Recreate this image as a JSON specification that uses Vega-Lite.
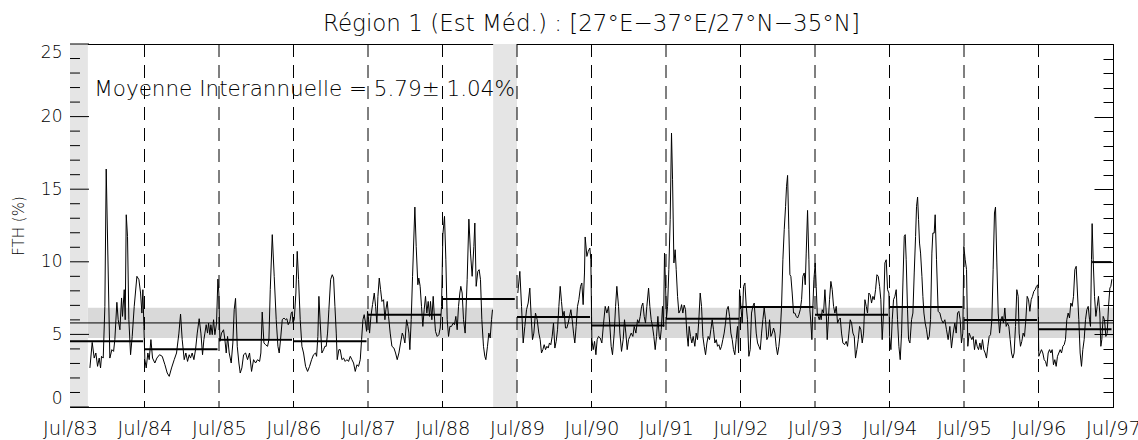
{
  "$schema": "https://vega.github.io/schema/vega-lite/v6.json",
  "width": 1043,
  "height": 363,
  "autosize": "none",
  "padding": {"left": 70, "top": 44, "right": 25, "bottom": 33},
  "background": "white",
  "config": {
    "view": {"stroke": "black", "strokeWidth": 1},
    "font": "DejaVu Sans",
    "axisY": {"zindex": 2}
  },
  "title": {
    "text": "Région 1 (Est Méd.) : [27°E−37°E/27°N−35°N]",
    "font": "DejaVu Sans",
    "fontSize": 23,
    "fontWeight": 300,
    "color": "black",
    "anchor": "middle",
    "offset": 7
  },
  "datasets": {
    "gaps": [{"a": 1983.5, "b": 1983.74}, {"a": 1989.18, "b": 1989.5}],
    "band": [{"a": 1983.74, "b": 1989.18, "lo": 4.75, "hi": 6.83}, {"a": 1989.5, "b": 1997.5, "lo": 4.75, "hi": 6.83}],
    "mean": [{"a": 1983.5, "b": 1997.5, "m": 5.79}],
    "yt": [{"y":0},{"y":1},{"y":2},{"y":3},{"y":4},{"y":5},{"y":6},{"y":7},{"y":8},{"y":9},{"y":10},{"y":11},{"y":12},{"y":13},{"y":14},{"y":15},{"y":16},{"y":17},{"y":18},{"y":19},{"y":20},{"y":21},{"y":22},{"y":23},{"y":24},{"y":25}],
    "julys": [{"t": 1984.5}, {"t": 1985.5}, {"t": 1986.5}, {"t": 1987.5}, {"t": 1988.5}, {"t": 1989.5}, {"t": 1990.5}, {"t": 1991.5}, {"t": 1992.5}, {"t": 1993.5}, {"t": 1994.5}, {"t": 1995.5}, {"t": 1996.5}],
    "annual": [
      {"s": 1983.5, "e": 1984.48, "m": 4.52},
      {"s": 1984.5, "e": 1985.48, "m": 3.97},
      {"s": 1985.5, "e": 1986.48, "m": 4.64},
      {"s": 1986.5, "e": 1987.48, "m": 4.53},
      {"s": 1987.5, "e": 1988.48, "m": 6.36},
      {"s": 1988.5, "e": 1989.47, "m": 7.43},
      {"s": 1989.5, "e": 1990.48, "m": 6.19},
      {"s": 1990.5, "e": 1991.48, "m": 5.62},
      {"s": 1991.5, "e": 1992.48, "m": 6.08},
      {"s": 1992.5, "e": 1993.48, "m": 6.88},
      {"s": 1993.5, "e": 1994.48, "m": 6.36},
      {"s": 1994.5, "e": 1995.48, "m": 6.88},
      {"s": 1995.5, "e": 1996.48, "m": 6.0},
      {"s": 1996.5, "e": 1997.48, "m": 5.36},
      {"s": 1997.22, "e": 1997.48, "m": 9.98}
    ],
    "note": [{"label": "Moyenne Interannuelle = 5.79± 1.04%"}],
    "series": [
      {"t":1983.767,"v":2.69,"s":1},{"t":1983.798,"v":4.45,"s":1},{"t":1983.825,"v":3.37,"s":1},{"t":1983.847,"v":3.72,"s":1},{"t":1983.870,"v":2.80,"s":1},{"t":1983.892,"v":3.37,"s":1},{"t":1983.910,"v":2.69,"s":1},{"t":1983.923,"v":3.49,"s":1},{"t":1983.946,"v":3.37,"s":1},{"t":1983.968,"v":6.93,"s":1},{"t":1983.986,"v":16.39,"s":1},{"t":1984.035,"v":3.37,"s":1},{"t":1984.062,"v":3.95,"s":1},{"t":1984.085,"v":3.83,"s":1},{"t":1984.102,"v":4.64,"s":1},{"t":1984.129,"v":7.21,"s":1},{"t":1984.147,"v":6.01,"s":1},{"t":1984.170,"v":5.32,"s":1},{"t":1984.192,"v":7.51,"s":1},{"t":1984.205,"v":6.24,"s":1},{"t":1984.228,"v":8.08,"s":1},{"t":1984.241,"v":6.01,"s":1},{"t":1984.255,"v":13.24,"s":1},{"t":1984.272,"v":11.75,"s":1},{"t":1984.290,"v":6.01,"s":1},{"t":1984.313,"v":3.60,"s":1},{"t":1984.335,"v":4.86,"s":1},{"t":1984.362,"v":6.93,"s":1},{"t":1984.398,"v":9.0,"s":1},{"t":1984.425,"v":8.77,"s":1},{"t":1984.447,"v":7.85,"s":1},{"t":1984.465,"v":6.47,"s":1},{"t":1984.478,"v":8.08,"s":1},{"t":1984.492,"v":5.55,"s":1},{"t":1984.505,"v":3.26,"s":1},{"t":1984.523,"v":2.69,"s":1},{"t":1984.545,"v":3.72,"s":1},{"t":1984.563,"v":3.26,"s":1},{"t":1984.586,"v":4.64,"s":1},{"t":1984.608,"v":3.37,"s":1},{"t":1984.639,"v":3.03,"s":1},{"t":1984.666,"v":3.37,"s":1},{"t":1984.702,"v":3.60,"s":1},{"t":1984.738,"v":3.49,"s":1},{"t":1984.774,"v":2.91,"s":1},{"t":1984.805,"v":2.34,"s":1},{"t":1984.832,"v":2.11,"s":1},{"t":1984.863,"v":2.69,"s":1},{"t":1984.899,"v":3.26,"s":1},{"t":1984.930,"v":3.72,"s":1},{"t":1984.962,"v":5.09,"s":1},{"t":1984.984,"v":6.40,"s":1},{"t":1985.006,"v":4.64,"s":1},{"t":1985.033,"v":3.26,"s":1},{"t":1985.055,"v":3.72,"s":1},{"t":1985.078,"v":3.14,"s":1},{"t":1985.100,"v":3.60,"s":1},{"t":1985.118,"v":3.37,"s":1},{"t":1985.140,"v":3.72,"s":1},{"t":1985.163,"v":3.26,"s":1},{"t":1985.185,"v":3.95,"s":1},{"t":1985.208,"v":5.09,"s":1},{"t":1985.234,"v":6.08,"s":1},{"t":1985.257,"v":5.09,"s":1},{"t":1985.279,"v":3.60,"s":1},{"t":1985.297,"v":4.64,"s":1},{"t":1985.311,"v":5.09,"s":1},{"t":1985.328,"v":5.67,"s":1},{"t":1985.346,"v":5.09,"s":1},{"t":1985.360,"v":5.78,"s":1},{"t":1985.378,"v":4.98,"s":1},{"t":1985.391,"v":5.67,"s":1},{"t":1985.409,"v":4.98,"s":1},{"t":1985.427,"v":6.01,"s":1},{"t":1985.445,"v":4.98,"s":1},{"t":1985.467,"v":5.78,"s":1},{"t":1985.485,"v":8.81,"s":1},{"t":1985.498,"v":7.85,"s":1},{"t":1985.512,"v":4.52,"s":1},{"t":1985.534,"v":5.09,"s":1},{"t":1985.561,"v":5.32,"s":1},{"t":1985.579,"v":4.64,"s":1},{"t":1985.597,"v":3.72,"s":1},{"t":1985.615,"v":4.86,"s":1},{"t":1985.637,"v":3.72,"s":1},{"t":1985.664,"v":3.03,"s":1},{"t":1985.686,"v":4.41,"s":1},{"t":1985.704,"v":6.70,"s":1},{"t":1985.722,"v":7.48,"s":1},{"t":1985.745,"v":4.18,"s":1},{"t":1985.767,"v":3.03,"s":1},
      {"t":1985.785,"v":2.34,"s":1},{"t":1985.807,"v":2.69,"s":1},{"t":1985.830,"v":3.60,"s":1},{"t":1985.857,"v":3.72,"s":1},{"t":1985.883,"v":3.26,"s":1},{"t":1985.910,"v":3.72,"s":1},{"t":1985.937,"v":2.45,"s":1},{"t":1985.964,"v":3.26,"s":1},{"t":1985.991,"v":3.03,"s":1},{"t":1986.018,"v":3.26,"s":1},{"t":1986.045,"v":3.14,"s":1},{"t":1986.062,"v":3.72,"s":1},{"t":1986.080,"v":6.54,"s":1},{"t":1986.103,"v":4.41,"s":1},{"t":1986.125,"v":4.29,"s":1},{"t":1986.152,"v":4.18,"s":1},{"t":1986.170,"v":4.64,"s":1},{"t":1986.188,"v":8.08,"s":1},{"t":1986.215,"v":11.87,"s":1},{"t":1986.241,"v":9.0,"s":1},{"t":1986.268,"v":6.01,"s":1},{"t":1986.291,"v":4.18,"s":1},{"t":1986.308,"v":3.72,"s":1},{"t":1986.326,"v":4.64,"s":1},{"t":1986.349,"v":6.01,"s":1},{"t":1986.371,"v":6.13,"s":1},{"t":1986.394,"v":6.01,"s":1},{"t":1986.411,"v":6.08,"s":1},{"t":1986.429,"v":5.67,"s":1},{"t":1986.452,"v":5.90,"s":1},{"t":1986.470,"v":6.47,"s":1},{"t":1986.483,"v":6.56,"s":1},{"t":1986.492,"v":5.83,"s":1},{"t":1986.510,"v":6.01,"s":1},{"t":1986.532,"v":7.85,"s":1},{"t":1986.550,"v":10.72,"s":1},{"t":1986.568,"v":8.77,"s":1},{"t":1986.590,"v":6.01,"s":1},{"t":1986.613,"v":4.18,"s":1},{"t":1986.635,"v":3.72,"s":1},{"t":1986.662,"v":2.80,"s":1},{"t":1986.689,"v":2.45,"s":1},{"t":1986.716,"v":2.80,"s":1},{"t":1986.743,"v":3.26,"s":1},{"t":1986.769,"v":3.60,"s":1},{"t":1986.796,"v":3.72,"s":1},{"t":1986.810,"v":3.49,"s":1},{"t":1986.827,"v":4.86,"s":1},{"t":1986.841,"v":7.62,"s":1},{"t":1986.859,"v":5.78,"s":1},{"t":1986.881,"v":3.72,"s":1},{"t":1986.904,"v":3.95,"s":1},{"t":1986.921,"v":4.18,"s":1},{"t":1986.939,"v":4.18,"s":1},{"t":1986.957,"v":5.09,"s":1},{"t":1986.975,"v":6.70,"s":1},{"t":1986.998,"v":8.77,"s":1},{"t":1987.020,"v":9.11,"s":1},{"t":1987.038,"v":8.88,"s":1},{"t":1987.056,"v":6.93,"s":1},{"t":1987.074,"v":5.09,"s":1},{"t":1987.087,"v":3.26,"s":1},{"t":1987.109,"v":3.95,"s":1},{"t":1987.127,"v":3.95,"s":1},{"t":1987.150,"v":3.26,"s":1},{"t":1987.172,"v":3.37,"s":1},{"t":1987.194,"v":3.14,"s":1},{"t":1987.217,"v":3.26,"s":1},{"t":1987.239,"v":3.14,"s":1},{"t":1987.262,"v":3.49,"s":1},{"t":1987.284,"v":3.26,"s":1},{"t":1987.306,"v":3.03,"s":1},{"t":1987.329,"v":2.45,"s":1},{"t":1987.351,"v":2.91,"s":1},{"t":1987.373,"v":2.80,"s":1},{"t":1987.396,"v":3.26,"s":1},{"t":1987.414,"v":4.64,"s":1},{"t":1987.432,"v":6.01,"s":1},{"t":1987.449,"v":6.36,"s":1},{"t":1987.467,"v":5.78,"s":1},{"t":1987.481,"v":5.21,"s":1},{"t":1987.494,"v":6.59,"s":1},{"t":1987.508,"v":6.01,"s":1},{"t":1987.521,"v":5.09,"s":1},{"t":1987.539,"v":6.24,"s":1},{"t":1987.561,"v":7.05,"s":1},{"t":1987.584,"v":7.85,"s":1},{"t":1987.602,"v":6.93,"s":1},{"t":1987.619,"v":5.78,"s":1},{"t":1987.633,"v":7.62,"s":1},{"t":1987.651,"v":8.88,"s":1},{"t":1987.669,"v":8.08,"s":1},{"t":1987.687,"v":7.27,"s":1},{"t":1987.709,"v":7.39,"s":1},{"t":1987.727,"v":6.01,"s":1},{"t":1987.740,"v":6.70,"s":1},{"t":1987.758,"v":7.27,"s":1},{"t":1987.776,"v":6.24,"s":1},{"t":1987.798,"v":5.09,"s":1},{"t":1987.821,"v":4.18,"s":1},{"t":1987.848,"v":4.06,"s":1},{"t":1987.870,"v":3.72,"s":1},{"t":1987.892,"v":3.26,"s":1},{"t":1987.915,"v":3.72,"s":1},{"t":1987.937,"v":4.41,"s":1},{"t":1987.960,"v":5.09,"s":1},{"t":1987.977,"v":4.86,"s":1},{"t":1987.995,"v":4.41,"s":1},{"t":1988.018,"v":6.01,"s":1},{"t":1988.036,"v":5.55,"s":1},{"t":1988.049,"v":5.09,"s":1},{"t":1988.062,"v":3.95,"s":1},{"t":1988.080,"v":6.01,"s":1},{"t":1988.098,"v":9.0,"s":1},
      {"t":1988.129,"v":13.77,"s":1},{"t":1988.147,"v":11.06,"s":1},{"t":1988.169,"v":8.42,"s":1},{"t":1988.182,"v":8.88,"s":1},{"t":1988.200,"v":8.31,"s":1},{"t":1988.218,"v":6.93,"s":1},{"t":1988.236,"v":5.55,"s":1},{"t":1988.254,"v":6.70,"s":1},{"t":1988.272,"v":7.62,"s":1},{"t":1988.290,"v":6.47,"s":1},{"t":1988.308,"v":7.27,"s":1},{"t":1988.326,"v":6.24,"s":1},{"t":1988.339,"v":7.27,"s":1},{"t":1988.357,"v":6.01,"s":1},{"t":1988.375,"v":7.62,"s":1},{"t":1988.388,"v":6.47,"s":1},{"t":1988.406,"v":5.21,"s":1},{"t":1988.429,"v":4.86,"s":1},{"t":1988.451,"v":4.98,"s":1},{"t":1988.469,"v":5.44,"s":1},{"t":1988.487,"v":6.93,"s":1},{"t":1988.505,"v":11.87,"s":1},{"t":1988.527,"v":13.13,"s":1},{"t":1988.545,"v":10.14,"s":1},{"t":1988.563,"v":6.01,"s":1},{"t":1988.581,"v":4.86,"s":1},{"t":1988.599,"v":5.55,"s":1},{"t":1988.621,"v":5.55,"s":1},{"t":1988.643,"v":5.78,"s":1},{"t":1988.661,"v":5.67,"s":1},{"t":1988.679,"v":6.24,"s":1},{"t":1988.697,"v":5.32,"s":1},{"t":1988.715,"v":6.93,"s":1},{"t":1988.733,"v":7.85,"s":1},{"t":1988.746,"v":8.31,"s":1},{"t":1988.764,"v":7.85,"s":1},{"t":1988.782,"v":6.01,"s":1},{"t":1988.804,"v":5.09,"s":1},{"t":1988.831,"v":8.77,"s":1},{"t":1988.854,"v":12.94,"s":1},{"t":1988.876,"v":10.6,"s":1},{"t":1988.898,"v":9.0,"s":1},{"t":1988.921,"v":11.06,"s":1},{"t":1988.934,"v":12.67,"s":1},{"t":1988.952,"v":8.31,"s":1},{"t":1988.974,"v":9.34,"s":1},{"t":1988.992,"v":9.46,"s":1},{"t":1989.010,"v":8.77,"s":1},{"t":1989.028,"v":6.01,"s":1},{"t":1989.050,"v":4.18,"s":1},{"t":1989.068,"v":3.49,"s":1},{"t":1989.082,"v":3.26,"s":1},{"t":1989.104,"v":4.18,"s":1},{"t":1989.122,"v":5.09,"s":1},{"t":1989.140,"v":4.75,"s":1},{"t":1989.158,"v":6.01,"s":1},{"t":1989.171,"v":6.70,"s":1},
      {"t":1989.511,"v":7.85,"s":2},{"t":1989.538,"v":9.34,"s":2},{"t":1989.561,"v":6.93,"s":2},{"t":1989.583,"v":4.41,"s":2},{"t":1989.605,"v":5.55,"s":2},{"t":1989.628,"v":6.70,"s":2},{"t":1989.650,"v":7.16,"s":2},{"t":1989.672,"v":8.19,"s":2},{"t":1989.690,"v":6.24,"s":2},{"t":1989.708,"v":4.64,"s":2},{"t":1989.726,"v":5.09,"s":2},{"t":1989.748,"v":6.47,"s":2},{"t":1989.771,"v":6.01,"s":2},{"t":1989.793,"v":5.09,"s":2},{"t":1989.811,"v":4.64,"s":2},{"t":1989.829,"v":3.72,"s":2},{"t":1989.847,"v":3.95,"s":2},{"t":1989.865,"v":4.29,"s":2},{"t":1989.883,"v":3.95,"s":2},{"t":1989.901,"v":4.18,"s":2},{"t":1989.919,"v":4.06,"s":2},{"t":1989.936,"v":4.41,"s":2},{"t":1989.954,"v":4.29,"s":2},{"t":1989.972,"v":4.86,"s":2},{"t":1989.990,"v":5.78,"s":2},{"t":1990.008,"v":4.06,"s":2},{"t":1990.026,"v":4.52,"s":2},{"t":1990.044,"v":5.32,"s":2},{"t":1990.062,"v":6.93,"s":2},{"t":1990.080,"v":8.31,"s":2},{"t":1990.097,"v":7.27,"s":2},{"t":1990.115,"v":6.24,"s":2},{"t":1990.133,"v":6.59,"s":2},{"t":1990.151,"v":5.44,"s":2},{"t":1990.169,"v":5.44,"s":2},{"t":1990.187,"v":5.78,"s":2},{"t":1990.205,"v":6.24,"s":2},{"t":1990.223,"v":6.70,"s":2},{"t":1990.241,"v":6.01,"s":2},{"t":1990.259,"v":5.09,"s":2},{"t":1990.276,"v":4.41,"s":2},{"t":1990.294,"v":5.55,"s":2},{"t":1990.312,"v":6.93,"s":2},{"t":1990.330,"v":7.39,"s":2},{"t":1990.353,"v":8.31,"s":2},{"t":1990.370,"v":8.54,"s":2},{"t":1990.388,"v":7.05,"s":2},{"t":1990.406,"v":9.23,"s":2},
      {"t":1990.415,"v":11.71,"s":2},{"t":1990.438,"v":10.37,"s":2},{"t":1990.456,"v":10.72,"s":2},{"t":1990.478,"v":10.95,"s":2},{"t":1990.491,"v":10.14,"s":2},{"t":1990.505,"v":4.64,"s":2},{"t":1990.523,"v":3.95,"s":2},{"t":1990.541,"v":4.52,"s":2},{"t":1990.559,"v":3.60,"s":2},{"t":1990.576,"v":4.64,"s":2},{"t":1990.594,"v":4.86,"s":2},{"t":1990.617,"v":4.75,"s":2},{"t":1990.639,"v":4.41,"s":2},{"t":1990.662,"v":5.78,"s":2},{"t":1990.684,"v":6.93,"s":2},{"t":1990.706,"v":6.47,"s":2},{"t":1990.729,"v":6.93,"s":2},{"t":1990.747,"v":5.55,"s":2},{"t":1990.764,"v":4.18,"s":2},{"t":1990.782,"v":3.60,"s":2},{"t":1990.805,"v":5.09,"s":2},{"t":1990.823,"v":6.93,"s":2},{"t":1990.840,"v":8.31,"s":2},{"t":1990.863,"v":6.93,"s":2},{"t":1990.881,"v":5.09,"s":2},{"t":1990.903,"v":3.83,"s":2},{"t":1990.925,"v":4.64,"s":2},{"t":1990.943,"v":6.01,"s":2},{"t":1990.961,"v":5.09,"s":2},{"t":1990.979,"v":3.95,"s":2},{"t":1990.997,"v":4.64,"s":2},{"t":1991.015,"v":4.86,"s":2},{"t":1991.033,"v":5.09,"s":2},{"t":1991.055,"v":4.86,"s":2},{"t":1991.073,"v":5.55,"s":2},{"t":1991.096,"v":5.09,"s":2},{"t":1991.118,"v":6.01,"s":2},{"t":1991.136,"v":5.78,"s":2},{"t":1991.154,"v":6.24,"s":2},{"t":1991.172,"v":6.93,"s":2},{"t":1991.189,"v":7.16,"s":2},{"t":1991.207,"v":6.24,"s":2},{"t":1991.225,"v":5.78,"s":2},{"t":1991.243,"v":6.93,"s":2},{"t":1991.266,"v":8.19,"s":2},{"t":1991.283,"v":6.93,"s":2},{"t":1991.301,"v":6.01,"s":2},{"t":1991.319,"v":5.55,"s":2},{"t":1991.337,"v":4.86,"s":2},{"t":1991.355,"v":3.95,"s":2},{"t":1991.373,"v":4.86,"s":2},{"t":1991.391,"v":6.24,"s":2},{"t":1991.409,"v":4.86,"s":2},{"t":1991.422,"v":4.64,"s":2},{"t":1991.436,"v":5.32,"s":2},{"t":1991.453,"v":6.93,"s":2},{"t":1991.467,"v":5.55,"s":2},{"t":1991.480,"v":10.60,"s":2},{"t":1991.494,"v":8.31,"s":2},{"t":1991.507,"v":6.13,"s":2},{"t":1991.521,"v":6.93,"s":2},{"t":1991.538,"v":9.46,"s":2},{"t":1991.556,"v":12.90,"s":2},{"t":1991.574,"v":18.87,"s":2},{"t":1991.588,"v":15.65,"s":2},{"t":1991.606,"v":9.92,"s":2},{"t":1991.623,"v":10.83,"s":2},{"t":1991.637,"v":9.46,"s":2},{"t":1991.655,"v":7.62,"s":2},{"t":1991.673,"v":6.47,"s":2},{"t":1991.695,"v":6.70,"s":2},{"t":1991.709,"v":7.05,"s":2},{"t":1991.726,"v":6.47,"s":2},{"t":1991.744,"v":7.02,"s":2},{"t":1991.762,"v":6.70,"s":2},{"t":1991.780,"v":5.09,"s":2},{"t":1991.798,"v":4.18,"s":2},{"t":1991.811,"v":5.55,"s":2},{"t":1991.829,"v":4.86,"s":2},{"t":1991.847,"v":4.41,"s":2},{"t":1991.865,"v":4.86,"s":2},{"t":1991.887,"v":4.18,"s":2},{"t":1991.905,"v":5.09,"s":2},{"t":1991.923,"v":4.64,"s":2},{"t":1991.941,"v":6.01,"s":2},{"t":1991.959,"v":7.85,"s":2},{"t":1991.977,"v":6.93,"s":2},{"t":1991.995,"v":4.86,"s":2},{"t":1992.013,"v":4.18,"s":2},{"t":1992.031,"v":3.60,"s":2},{"t":1992.049,"v":4.41,"s":2},{"t":1992.066,"v":4.86,"s":2},{"t":1992.084,"v":4.64,"s":2},{"t":1992.102,"v":5.32,"s":2},{"t":1992.120,"v":6.01,"s":2},{"t":1992.138,"v":5.32,"s":2},{"t":1992.156,"v":4.41,"s":2},{"t":1992.174,"v":4.64,"s":2},{"t":1992.192,"v":4.18,"s":2},{"t":1992.210,"v":4.29,"s":2},{"t":1992.228,"v":3.95,"s":2},{"t":1992.245,"v":4.18,"s":2},{"t":1992.263,"v":4.64,"s":2},{"t":1992.281,"v":5.09,"s":2},{"t":1992.299,"v":5.78,"s":2},{"t":1992.317,"v":6.70,"s":2},{"t":1992.335,"v":6.93,"s":2},{"t":1992.353,"v":6.24,"s":2},{"t":1992.371,"v":5.09,"s":2},{"t":1992.389,"v":4.64,"s":2},{"t":1992.406,"v":3.95,"s":2},{"t":1992.424,"v":3.60,"s":2},{"t":1992.442,"v":4.64,"s":2},{"t":1992.460,"v":5.55,"s":2},{"t":1992.474,"v":3.72,"s":2},{"t":1992.487,"v":8.08,"s":2},{"t":1992.505,"v":6.93,"s":2},{"t":1992.523,"v":5.78,"s":2},{"t":1992.541,"v":8.31,"s":2},{"t":1992.559,"v":8.54,"s":2},{"t":1992.577,"v":6.93,"s":2},{"t":1992.594,"v":6.01,"s":2},{"t":1992.612,"v":3.49,"s":2},{"t":1992.630,"v":3.95,"s":2},{"t":1992.648,"v":6.47,"s":2},{"t":1992.666,"v":6.93,"s":2},{"t":1992.684,"v":7.16,"s":2},
      {"t":1992.711,"v":5.09,"s":2},{"t":1992.729,"v":4.41,"s":2},{"t":1992.747,"v":4.18,"s":2},{"t":1992.765,"v":3.95,"s":2},{"t":1992.783,"v":5.09,"s":2},{"t":1992.800,"v":6.01,"s":2},{"t":1992.818,"v":6.82,"s":2},{"t":1992.836,"v":6.01,"s":2},{"t":1992.854,"v":4.64,"s":2},{"t":1992.872,"v":4.86,"s":2},{"t":1992.890,"v":6.01,"s":2},{"t":1992.908,"v":4.86,"s":2},{"t":1992.926,"v":5.09,"s":2},{"t":1992.944,"v":5.44,"s":2},{"t":1992.962,"v":5.09,"s":2},{"t":1992.979,"v":4.18,"s":2},{"t":1992.997,"v":3.60,"s":2},{"t":1993.015,"v":4.18,"s":2},{"t":1993.033,"v":5.09,"s":2},{"t":1993.051,"v":6.93,"s":2},{"t":1993.069,"v":10.14,"s":2},{"t":1993.087,"v":12.21,"s":2},{"t":1993.105,"v":13.82,"s":2},{"t":1993.118,"v":15.2,"s":2},{"t":1993.132,"v":15.95,"s":2},{"t":1993.149,"v":12.21,"s":2},{"t":1993.163,"v":9.11,"s":2},{"t":1993.176,"v":9.0,"s":2},{"t":1993.194,"v":7.85,"s":2},{"t":1993.212,"v":6.47,"s":2},{"t":1993.230,"v":6.47,"s":2},{"t":1993.248,"v":6.24,"s":2},{"t":1993.266,"v":6.13,"s":2},{"t":1993.284,"v":6.36,"s":2},{"t":1993.302,"v":6.70,"s":2},{"t":1993.320,"v":7.39,"s":2},{"t":1993.337,"v":9.0,"s":2},{"t":1993.355,"v":9.23,"s":2},{"t":1993.369,"v":8.42,"s":2},{"t":1993.382,"v":10.6,"s":2},{"t":1993.400,"v":13.54,"s":2},{"t":1993.418,"v":10.14,"s":2},{"t":1993.431,"v":6.70,"s":2},{"t":1993.445,"v":5.78,"s":2},{"t":1993.458,"v":4.64,"s":2},{"t":1993.472,"v":6.93,"s":2},{"t":1993.485,"v":8.77,"s":2},{"t":1993.503,"v":9.92,"s":2},{"t":1993.516,"v":8.31,"s":2},{"t":1993.530,"v":6.47,"s":2},{"t":1993.543,"v":6.24,"s":2},{"t":1993.557,"v":6.01,"s":2},{"t":1993.570,"v":6.36,"s":2},{"t":1993.583,"v":6.01,"s":2},{"t":1993.597,"v":6.70,"s":2},{"t":1993.615,"v":6.47,"s":2},{"t":1993.633,"v":8.08,"s":2},{"t":1993.651,"v":6.47,"s":2},{"t":1993.664,"v":4.64,"s":2},{"t":1993.682,"v":6.24,"s":2},{"t":1993.695,"v":7.39,"s":2},{"t":1993.713,"v":8.65,"s":2},{"t":1993.731,"v":8.08,"s":2},{"t":1993.749,"v":6.93,"s":2},{"t":1993.767,"v":6.47,"s":2},{"t":1993.785,"v":6.93,"s":2},{"t":1993.803,"v":5.78,"s":2},{"t":1993.821,"v":6.01,"s":2},{"t":1993.839,"v":6.13,"s":2},{"t":1993.856,"v":5.09,"s":2},{"t":1993.874,"v":4.41,"s":2},{"t":1993.897,"v":4.29,"s":2},{"t":1993.919,"v":4.52,"s":2},{"t":1993.937,"v":4.18,"s":2},{"t":1993.955,"v":5.09,"s":2},{"t":1993.973,"v":6.01,"s":2},{"t":1993.991,"v":5.78,"s":2},{"t":1994.009,"v":5.09,"s":2},{"t":1994.027,"v":4.86,"s":2},{"t":1994.044,"v":3.37,"s":2},{"t":1994.062,"v":3.95,"s":2},{"t":1994.080,"v":4.64,"s":2},{"t":1994.098,"v":5.55,"s":2},{"t":1994.116,"v":5.32,"s":2},{"t":1994.134,"v":4.41,"s":2},{"t":1994.152,"v":5.09,"s":2},{"t":1994.170,"v":7.39,"s":2},{"t":1994.188,"v":6.93,"s":2},{"t":1994.205,"v":6.47,"s":2},{"t":1994.223,"v":7.85,"s":2},{"t":1994.241,"v":7.73,"s":2},{"t":1994.259,"v":7.16,"s":2},{"t":1994.277,"v":7.62,"s":2},{"t":1994.295,"v":7.39,"s":2},{"t":1994.313,"v":8.08,"s":2},{"t":1994.331,"v":9.11,"s":2},{"t":1994.349,"v":9.0,"s":2},{"t":1994.367,"v":8.31,"s":2},{"t":1994.384,"v":7.39,"s":2},{"t":1994.402,"v":4.64,"s":2},{"t":1994.420,"v":6.47,"s":2},{"t":1994.438,"v":9.92,"s":2},{"t":1994.456,"v":10.14,"s":2},{"t":1994.474,"v":8.08,"s":2},{"t":1994.492,"v":7.85,"s":2},{"t":1994.501,"v":4.86,"s":2},{"t":1994.519,"v":3.95,"s":2},{"t":1994.537,"v":6.01,"s":2},{"t":1994.554,"v":7.39,"s":2},{"t":1994.572,"v":7.62,"s":2},{"t":1994.590,"v":8.08,"s":2},{"t":1994.608,"v":6.01,"s":2},{"t":1994.626,"v":4.18,"s":2},{"t":1994.644,"v":3.26,"s":2},{"t":1994.662,"v":5.09,"s":2},{"t":1994.680,"v":8.54,"s":2},{"t":1994.698,"v":11.75,"s":2},{"t":1994.711,"v":11.87,"s":2},{"t":1994.724,"v":10.14,"s":2},{"t":1994.742,"v":6.70,"s":2},{"t":1994.756,"v":4.64,"s":2},{"t":1994.774,"v":4.41,"s":2},{"t":1994.796,"v":6.01,"s":2},{"t":1994.814,"v":6.47,"s":2},{"t":1994.832,"v":9.23,"s":2},{"t":1994.850,"v":11.75,"s":2},{"t":1994.863,"v":13.82,"s":2},{"t":1994.877,"v":14.46,"s":2},{"t":1994.890,"v":12.90,"s":2},{"t":1994.903,"v":11.29,"s":2},{"t":1994.917,"v":10.6,"s":2},{"t":1994.935,"v":9.0,"s":2},{"t":1994.948,"v":7.62,"s":2},{"t":1994.962,"v":6.47,"s":2},{"t":1994.979,"v":5.78,"s":2},{"t":1994.997,"v":5.32,"s":2},{"t":1995.015,"v":4.64,"s":2},{"t":1995.033,"v":4.86,"s":2},{"t":1995.051,"v":6.01,"s":2},{"t":1995.069,"v":10.6,"s":2},
      {"t":1995.082,"v":11.98,"s":2},{"t":1995.100,"v":11.98,"s":2},{"t":1995.113,"v":13.24,"s":2},{"t":1995.131,"v":10.14,"s":2},{"t":1995.153,"v":6.59,"s":2},{"t":1995.176,"v":6.47,"s":2},{"t":1995.198,"v":6.01,"s":2},{"t":1995.220,"v":5.78,"s":2},{"t":1995.243,"v":6.01,"s":2},{"t":1995.265,"v":5.32,"s":2},{"t":1995.287,"v":4.64,"s":2},{"t":1995.310,"v":5.55,"s":2},{"t":1995.332,"v":4.06,"s":2},{"t":1995.355,"v":5.09,"s":2},{"t":1995.377,"v":5.78,"s":2},{"t":1995.395,"v":5.09,"s":2},{"t":1995.413,"v":6.47,"s":2},{"t":1995.431,"v":6.59,"s":2},{"t":1995.449,"v":6.01,"s":2},{"t":1995.466,"v":4.41,"s":2},{"t":1995.484,"v":5.09,"s":2},{"t":1995.498,"v":11.06,"s":2},{"t":1995.516,"v":10.14,"s":2},{"t":1995.534,"v":9.46,"s":2},{"t":1995.551,"v":4.18,"s":2},{"t":1995.569,"v":5.09,"s":2},{"t":1995.587,"v":4.86,"s":2},{"t":1995.605,"v":4.64,"s":2},{"t":1995.623,"v":4.86,"s":2},{"t":1995.641,"v":3.95,"s":2},{"t":1995.659,"v":4.64,"s":2},{"t":1995.677,"v":4.18,"s":2},{"t":1995.695,"v":3.95,"s":2},{"t":1995.713,"v":4.41,"s":2},{"t":1995.730,"v":3.95,"s":2},{"t":1995.748,"v":4.64,"s":2},{"t":1995.766,"v":3.95,"s":2},{"t":1995.784,"v":3.72,"s":2},{"t":1995.802,"v":3.37,"s":2},{"t":1995.820,"v":4.18,"s":2},{"t":1995.838,"v":4.86,"s":2},{"t":1995.856,"v":4.98,"s":2},{"t":1995.874,"v":6.01,"s":2},{"t":1995.891,"v":9.46,"s":2},{"t":1995.909,"v":13.36,"s":2},{"t":1995.923,"v":13.77,"s":2},{"t":1995.941,"v":9.92,"s":2},{"t":1995.959,"v":6.47,"s":2},{"t":1995.977,"v":5.09,"s":2},{"t":1995.994,"v":6.01,"s":2},{"t":1996.012,"v":6.24,"s":2},{"t":1996.030,"v":5.78,"s":2},{"t":1996.048,"v":6.82,"s":2},{"t":1996.066,"v":5.55,"s":2},{"t":1996.084,"v":5.78,"s":2},{"t":1996.102,"v":5.55,"s":2},{"t":1996.120,"v":4.64,"s":2},{"t":1996.138,"v":3.72,"s":2},{"t":1996.155,"v":3.37,"s":2},{"t":1996.173,"v":3.72,"s":2},{"t":1996.191,"v":5.55,"s":2},{"t":1996.209,"v":8.08,"s":2},{"t":1996.227,"v":7.62,"s":2},{"t":1996.240,"v":5.09,"s":2},{"t":1996.258,"v":4.18,"s":2},{"t":1996.276,"v":4.52,"s":2},{"t":1996.294,"v":5.09,"s":2},{"t":1996.312,"v":4.86,"s":2},{"t":1996.330,"v":6.01,"s":2},{"t":1996.348,"v":7.62,"s":2},{"t":1996.366,"v":7.39,"s":2},{"t":1996.384,"v":6.59,"s":2},{"t":1996.402,"v":7.39,"s":2},{"t":1996.419,"v":7.62,"s":2},{"t":1996.437,"v":7.96,"s":2},{"t":1996.455,"v":8.08,"s":2},{"t":1996.473,"v":8.31,"s":2},{"t":1996.491,"v":8.42,"s":2},{"t":1996.504,"v":3.49,"s":2},{"t":1996.522,"v":3.72,"s":2},{"t":1996.540,"v":3.95,"s":2},{"t":1996.558,"v":3.72,"s":2},{"t":1996.576,"v":3.26,"s":2},{"t":1996.594,"v":3.14,"s":2},{"t":1996.612,"v":2.80,"s":2},{"t":1996.630,"v":3.72,"s":2},{"t":1996.648,"v":3.95,"s":2},{"t":1996.666,"v":3.72,"s":2},{"t":1996.683,"v":3.95,"s":2},{"t":1996.701,"v":2.91,"s":2},{"t":1996.719,"v":3.26,"s":2},{"t":1996.737,"v":2.80,"s":2},{"t":1996.755,"v":3.49,"s":2},{"t":1996.773,"v":3.72,"s":2},{"t":1996.791,"v":3.95,"s":2},{"t":1996.809,"v":3.72,"s":2},{"t":1996.827,"v":4.18,"s":2},{"t":1996.845,"v":4.29,"s":2},{"t":1996.862,"v":4.64,"s":2},{"t":1996.880,"v":6.01,"s":2},{"t":1996.898,"v":6.47,"s":2},{"t":1996.916,"v":6.13,"s":2},{"t":1996.934,"v":7.16,"s":2},{"t":1996.952,"v":6.93,"s":2},{"t":1996.970,"v":7.62,"s":2},{"t":1996.988,"v":9.46,"s":2},{"t":1997.006,"v":9.69,"s":2},{"t":1997.023,"v":7.85,"s":2},{"t":1997.041,"v":6.01,"s":2},{"t":1997.059,"v":3.72,"s":2},{"t":1997.077,"v":2.80,"s":2},{"t":1997.095,"v":3.95,"s":2},{"t":1997.113,"v":4.64,"s":2},{"t":1997.131,"v":6.01,"s":2},{"t":1997.149,"v":6.70,"s":2},{"t":1997.167,"v":6.93,"s":2},{"t":1997.185,"v":6.01,"s":2},{"t":1997.198,"v":5.55,"s":2},{"t":1997.211,"v":10.14,"s":2},{"t":1997.220,"v":12.63,"s":2},{"t":1997.234,"v":10.14,"s":2},{"t":1997.252,"v":7.62,"s":2},{"t":1997.270,"v":6.24,"s":2},{"t":1997.288,"v":6.93,"s":2},{"t":1997.305,"v":7.62,"s":2},{"t":1997.323,"v":6.47,"s":2},{"t":1997.337,"v":4.18,"s":2},{"t":1997.350,"v":4.64,"s":2},{"t":1997.368,"v":6.24,"s":2},{"t":1997.386,"v":6.01,"s":2},{"t":1997.404,"v":4.86,"s":2},{"t":1997.422,"v":5.09,"s":2},{"t":1997.440,"v":6.93,"s":2},{"t":1997.458,"v":8.19,"s":2},{"t":1997.471,"v":8.31,"s":2},{"t":1997.485,"v":8.8,"s":2}
    ]
  },
  "resolve": {"axis": {"y": "independent"}},
  "layer": [
    {
      "data": {"name": "band"},
      "mark": {"type": "rect", "color": "#d9d9d9"},
      "encoding": {
        "x": {
          "field": "a",
          "type": "quantitative",
          "scale": {"domain": [1983.5, 1997.5], "nice": false, "zero": false},
          "axis": {
            "values": [1983.5,1984.5,1985.5,1986.5,1987.5,1988.5,1989.5,1990.5,1991.5,1992.5,1993.5,1994.5,1995.5,1996.5,1997.5],
            "labelExpr": "'Jul/' + substring('' + floor(datum.value), 2, 4)",
            "ticks": false,
            "grid": false,
            "title": null,
            "domainColor": "black",
            "labelColor": "black",
            "labelFont": "DejaVu Sans",
            "labelFontWeight": 300,
            "labelFontSize": 19.5,
            "labelPadding": 12,
            "labelFlush": false,
            "labelOverlap": false,
            "labelBound": false
          }
        },
        "x2": {"field": "b"},
        "y": {"field": "lo", "type": "quantitative", "axis": null, "scale": {"domain": [0, 25], "nice": false, "zero": false}},
        "y2": {"field": "hi"}
      }
    },
    {
      "data": {"name": "gaps"},
      "mark": {"type": "rect", "color": "#e5e5e5"},
      "encoding": {
        "x": {"field": "a", "type": "quantitative"},
        "x2": {"field": "b"}
      }
    },
    {
      "data": {"name": "julys"},
      "mark": {"type": "rule", "color": "black", "strokeWidth": 1, "strokeDash": [13, 8]},
      "encoding": {
        "x": {"field": "t", "type": "quantitative"}
      }
    },
    {
      "data": {"name": "mean"},
      "mark": {"type": "rule", "color": "black", "strokeWidth": 1},
      "encoding": {
        "x": {"field": "a", "type": "quantitative"},
        "x2": {"field": "b"},
        "y": {
          "field": "m",
          "type": "quantitative",
          "axis": {
            "orient": "right",
            "values": [0,1,2,3,4,5,6,7,8,9,10,11,12,13,14,15,16,17,18,19,20,21,22,23,24,25],
            "labels": false,
            "title": null,
            "grid": false,
            "zindex": 2,
            "domainColor": "black",
            "tickColor": "black",
            "tickSize": {"condition": {"test": "datum.value % 5 === 0", "value": -19}, "value": -10}
          }
        }
      }
    },
    {
      "data": {"name": "annual"},
      "mark": {"type": "rule", "color": "black", "strokeWidth": 2},
      "encoding": {
        "x": {"field": "s", "type": "quantitative"},
        "x2": {"field": "e"},
        "y": {"field": "m", "type": "quantitative", "axis": null}
      }
    },
    {
      "data": {"name": "series"},
      "mark": {"type": "line", "color": "black", "strokeWidth": 1, "interpolate": "linear"},
      "encoding": {
        "x": {"field": "t", "type": "quantitative"},
        "y": {
          "field": "v",
          "type": "quantitative",
          "axis": {
            "orient": "left",
            "values": [0,5,10,15,20,25],
            "grid": false,
            "ticks": false,
            "domain": false,
            "zindex": 2,
            "labelPadding": 8,
            "labelFlush": true,
            "labelOverlap": false,
            "labelColor": "black",
            "labelFont": "DejaVu Sans",
            "labelFontWeight": 300,
            "labelFontSize": 17,
            "title": "FTH (%)",
            "titleFont": "DejaVu Sans",
            "titleFontSize": 15,
            "titleFontWeight": 300,
            "titleColor": "black",
            "titlePadding": 14
          }
        },
        "detail": {"field": "s", "type": "nominal"}
      }
    },
    {
      "data": {"name": "yt"},
      "transform": [{"filter": "datum.y % 5 === 0"}],
      "mark": {"type": "rule", "color": "black", "strokeWidth": 1},
      "encoding": {
        "x": {"datum": 1983.5, "type": "quantitative"},
        "x2": {"datum": 1983.755},
        "y": {"field": "y", "type": "quantitative", "axis": null}
      }
    },
    {
      "data": {"name": "yt"},
      "transform": [{"filter": "datum.y % 5 !== 0"}],
      "mark": {"type": "rule", "color": "black", "strokeWidth": 1},
      "encoding": {
        "x": {"datum": 1983.5, "type": "quantitative"},
        "x2": {"datum": 1983.634},
        "y": {"field": "y", "type": "quantitative", "axis": null}
      }
    },
    {
      "data": {"name": "note"},
      "mark": {"type": "text", "align": "left", "baseline": "alphabetic", "font": "DejaVu Sans", "fontWeight": 300, "fontSize": 21.5, "color": "black"},
      "encoding": {
        "x": {"datum": 1983.825, "type": "quantitative"},
        "y": {"datum": 21.39, "type": "quantitative", "axis": null},
        "text": {"field": "label", "type": "nominal"}
      }
    }
  ]
}
